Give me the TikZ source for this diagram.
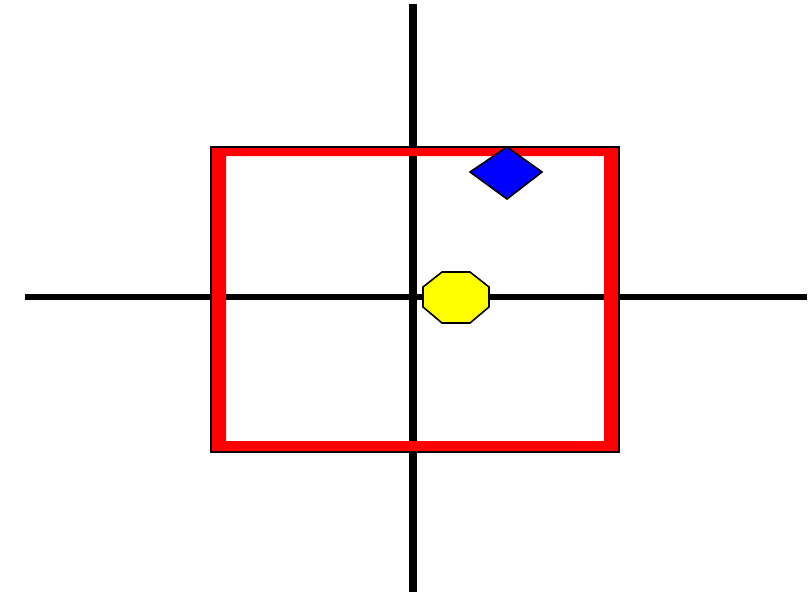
\documentclass[tikz,border=0pt]{standalone}
\usepackage{tikz}
\definecolor{framec}{RGB}{255,0,0}
\definecolor{diamc}{RGB}{0,0,255}
\definecolor{octc}{RGB}{255,255,0}

\begin{document}
\begin{tikzpicture}[x=0.02cm,y=-0.02cm,
		axisline/.style={black,line cap=butt},
		shapeline/.style={draw=black,line width=0.9pt,line join=miter}]
			\useasboundingbox (0,0) rectangle (810,595);
			% axes
			\draw[axisline,line width=4.4pt] (413,4)--(413,592);
			\draw[axisline,line width=3.4pt] (25,297)--(807,297);
			% frame: thin black edge, thick red band inside
			\draw[black,line width=0.8pt] (211,147) rectangle (619,452);
			\fill[framec,even odd rule] (212,148) rectangle (618,451) (226,156) rectangle (604,441);
			% blue diamond on the top edge
			\filldraw[shapeline,fill=diamc] (507,147)--(542,172)--(507,199)--(470,172)--cycle;
			% yellow octagon on the x axis
			\filldraw[shapeline,fill=octc] (442,272)--(470,272)--(489,287)--(489,307)
				--(470,323)--(442,323)--(423,307)--(423,287)--cycle;
		\end{tikzpicture}
\end{document}
